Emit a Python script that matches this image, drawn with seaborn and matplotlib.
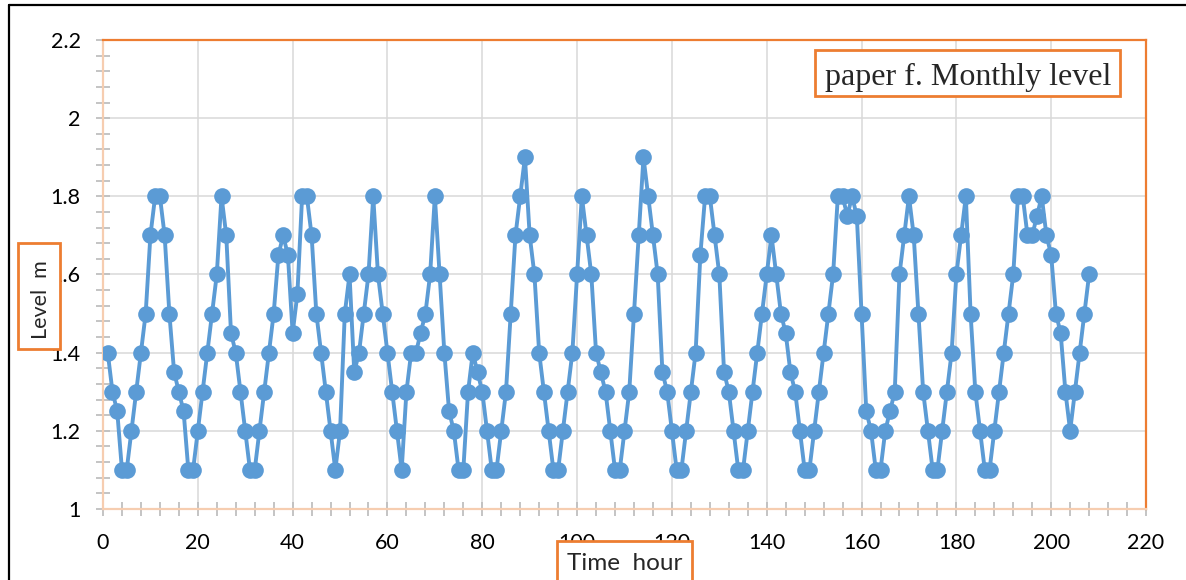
import matplotlib
matplotlib.use("Agg")
import matplotlib.pyplot as plt
import matplotlib.ticker as mticker
from matplotlib.patches import Rectangle
from matplotlib.lines import Line2D
import seaborn as sns
import pandas as pd

# Hourly water level readings (m)
hours = list(range(1, 209))
level = [
    1.4, 1.3, 1.25, 1.1, 1.1, 1.2, 1.3, 1.4, 1.5, 1.7,
    1.8, 1.8, 1.7, 1.5, 1.35, 1.3, 1.25, 1.1, 1.1, 1.2,
    1.3, 1.4, 1.5, 1.6, 1.8, 1.7, 1.45, 1.4, 1.3, 1.2,
    1.1, 1.1, 1.2, 1.3, 1.4, 1.5, 1.65, 1.7, 1.65, 1.45,
    1.55, 1.8, 1.8, 1.7, 1.5, 1.4, 1.3, 1.2, 1.1, 1.2,
    1.5, 1.6, 1.35, 1.4, 1.5, 1.6, 1.8, 1.6, 1.5, 1.4,
    1.3, 1.2, 1.1, 1.3, 1.4, 1.4, 1.45, 1.5, 1.6, 1.8,
    1.6, 1.4, 1.25, 1.2, 1.1, 1.1, 1.3, 1.4, 1.35, 1.3,
    1.2, 1.1, 1.1, 1.2, 1.3, 1.5, 1.7, 1.8, 1.9, 1.7,
    1.6, 1.4, 1.3, 1.2, 1.1, 1.1, 1.2, 1.3, 1.4, 1.6,
    1.8, 1.7, 1.6, 1.4, 1.35, 1.3, 1.2, 1.1, 1.1, 1.2,
    1.3, 1.5, 1.7, 1.9, 1.8, 1.7, 1.6, 1.35, 1.3, 1.2,
    1.1, 1.1, 1.2, 1.3, 1.4, 1.65, 1.8, 1.8, 1.7, 1.6,
    1.35, 1.3, 1.2, 1.1, 1.1, 1.2, 1.3, 1.4, 1.5, 1.6,
    1.7, 1.6, 1.5, 1.45, 1.35, 1.3, 1.2, 1.1, 1.1, 1.2,
    1.3, 1.4, 1.5, 1.6, 1.8, 1.8, 1.75, 1.8, 1.75, 1.5,
    1.25, 1.2, 1.1, 1.1, 1.2, 1.25, 1.3, 1.6, 1.7, 1.8,
    1.7, 1.5, 1.3, 1.2, 1.1, 1.1, 1.2, 1.3, 1.4, 1.6,
    1.7, 1.8, 1.5, 1.3, 1.2, 1.1, 1.1, 1.2, 1.3, 1.4,
    1.5, 1.6, 1.8, 1.8, 1.7, 1.7, 1.75, 1.8, 1.7, 1.65,
    1.5, 1.45, 1.3, 1.2, 1.3, 1.4, 1.5, 1.6,
]

x_ticks = list(range(0, 221, 20))
y_ticks = [1.0, 1.2, 1.4, 1.6, 1.8, 2.0, 2.2]
y_tick_labels = ["1", "1.2", "1.4", "1.6", "1.8", "2", "2.2"]

title_text = "paper f. Monthly level"
x_label = "Time  hour"
y_label = "Level  m"

sns.set_style("white")
plt.rcParams["font.family"] = ["Lato", "DejaVu Sans"]

W, H = 1186, 580
ORANGE = "#ED7D31"
BLUE = "#5B9BD5"

fig = plt.figure(figsize=(W / 100, H / 100), dpi=100)
ax = fig.add_axes([103 / W, 1 - 509 / H, (1146 - 103) / W, (509 - 40) / H])

df = pd.DataFrame({"hour": hours, "level": level})
sns.lineplot(data=df, x="hour", y="level", ax=ax, color=BLUE, linewidth=2.8,
             marker="o", markersize=12, markeredgewidth=0, zorder=3)

ax.set_xlim(0, 220)
ax.set_ylim(1.0, 2.2)
ax.set_xticks(x_ticks)
ax.set_xticklabels([str(t) for t in x_ticks])
ax.set_yticks(y_ticks)
ax.set_yticklabels(y_tick_labels)
ax.xaxis.set_minor_locator(mticker.MultipleLocator(4))
ax.yaxis.set_minor_locator(mticker.MultipleLocator(0.04))
ax.set_xlabel("")
ax.set_ylabel("")

ax.tick_params(which="both", bottom=True, left=True, top=False, right=False,
               direction="inout", length=10, width=1.3,
               color="#BFBFBF", labelsize=15.5, labelcolor="black")
ax.tick_params(axis="y", which="major", pad=11)
ax.tick_params(axis="x", which="major", pad=12)

ax.grid(True, which="major", color="#D9D9D9", linewidth=1.1)
ax.set_axisbelow(True)

for side in ("top", "right"):
    ax.spines[side].set_color(ORANGE)
    ax.spines[side].set_linewidth(1.6)
for side in ("left", "bottom"):
    ax.spines[side].set_color("#F6CDB0")
    ax.spines[side].set_linewidth(1.6)


def boxed(x0, y0, x1, y1):
    fig.add_artist(Rectangle((x0 / W, 1 - y1 / H), (x1 - x0) / W, (y1 - y0) / H,
                             transform=fig.transFigure, facecolor="white",
                             edgecolor=ORANGE, linewidth=2, zorder=5))


# Chart title box
boxed(815, 50, 1120, 96)
fig.text(968 / W, 1 - 85 / H, title_text, ha="center", va="baseline",
         fontsize=23, family="Liberation Serif", zorder=6)

# Y-axis title box
boxed(18, 243, 60, 349)
fig.text(41 / W, 1 - 300 / H, y_label, ha="center", va="center",
         rotation=90, fontsize=15.5, zorder=6)

# X-axis title box
boxed(557, 541, 692, 600)
fig.text(625 / W, 1 - 570 / H, x_label, ha="center", va="baseline",
         fontsize=17.5, zorder=6)

# Outer chart frame
fig.add_artist(Line2D([9 / W, 9 / W], [0, 1 - 5 / H], transform=fig.transFigure,
                      color="black", linewidth=1.6))
fig.add_artist(Line2D([9 / W, 1], [1 - 5 / H, 1 - 5 / H], transform=fig.transFigure,
                      color="black", linewidth=1.6))

fig.savefig("out.png", dpi=100)
